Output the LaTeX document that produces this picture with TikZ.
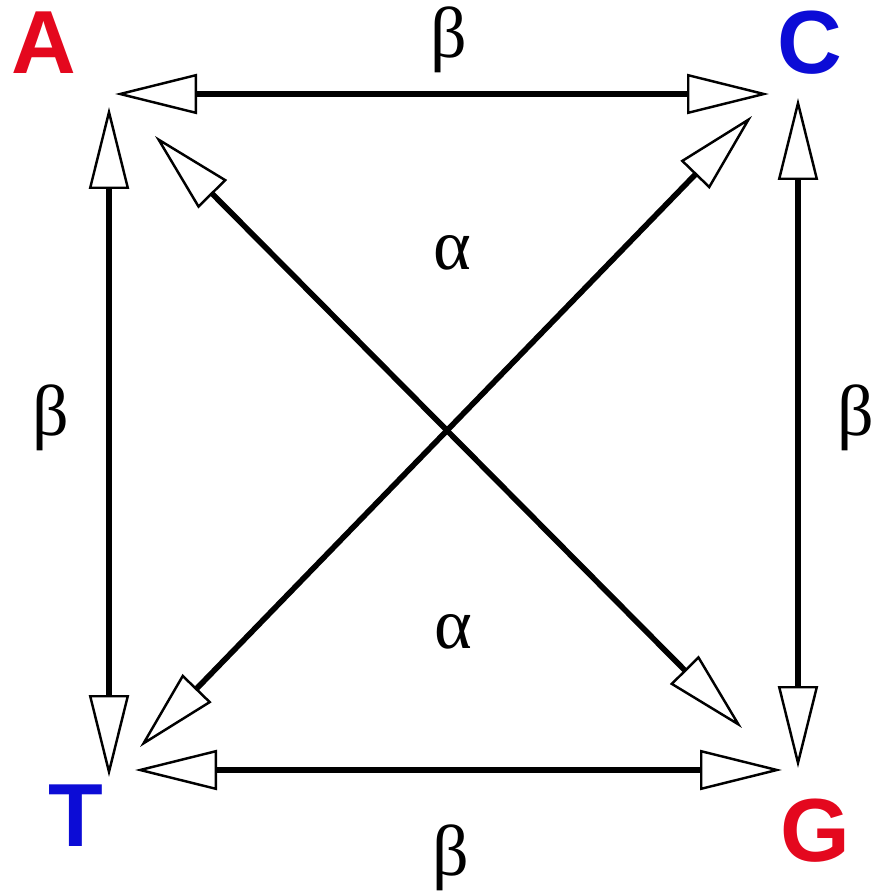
\documentclass[tikz,border=0pt]{standalone}
\usepackage{fontspec}
\setmainfont{Liberation Serif}
\setsansfont{Liberation Sans}
\usetikzlibrary{arrows.meta}

\definecolor{purred}{RGB}{228,8,30}
\definecolor{pyrblue}{RGB}{12,12,214}

\begin{document}
\begin{tikzpicture}[
  x=0.2mm, y=-0.2mm,
  >={Triangle[length=16.4mm, width=8mm, fill=white, line width=1.4pt]},
  base/.style={font=\sffamily\bfseries\fontsize{51}{60}\selectfont, inner sep=0pt},
  lbl/.style={font=\fontsize{41}{48}\selectfont, inner sep=0pt},
  twoway/.style={<->, line width=3.2pt}
]
\useasboundingbox (0,0) rectangle (875,892);

% Bases (corners)
\node[base, text=purred] (A) at (44,43) {A};
\node[base, text=pyrblue] (C) at (810,43) {C};
\node[base, text=pyrblue] (T) at (76,816) {T};
\node[base, text=purred] (G) at (815,831) {G};

% Arrow ends
\coordinate (AC1) at (115,94);
\coordinate (AC2) at (769,94);
\coordinate (AT1) at (109,107);
\coordinate (AT2) at (109,777);
\coordinate (CG1) at (798,98);
\coordinate (CG2) at (798,768);
\coordinate (TG1) at (135,770);
\coordinate (TG2) at (782,770);
\coordinate (AG1) at (155,136);
\coordinate (AG2) at (742,728);
\coordinate (CT1) at (752,116);
\coordinate (CT2) at (140,747);

% Transversions (beta)
\draw[twoway] (AC1) -- (AC2);
\draw[twoway] (AT1) -- (AT2);
\draw[twoway] (CG1) -- (CG2);
\draw[twoway] (TG1) -- (TG2);

% Transitions (alpha)
\draw[twoway] (AG1) -- (AG2);
\draw[twoway] (CT1) -- (CT2);

% Rate labels
\node[lbl] (btop) at (449,40) {β};
\node[lbl] (bleft) at (51,418) {β};
\node[lbl] (bright) at (856,418) {β};
\node[lbl] (bbot) at (451,858) {β};
\node[lbl] (atop) at (452,253) {α};
\node[lbl] (abot) at (453,632) {α};

\end{tikzpicture}
\end{document}
